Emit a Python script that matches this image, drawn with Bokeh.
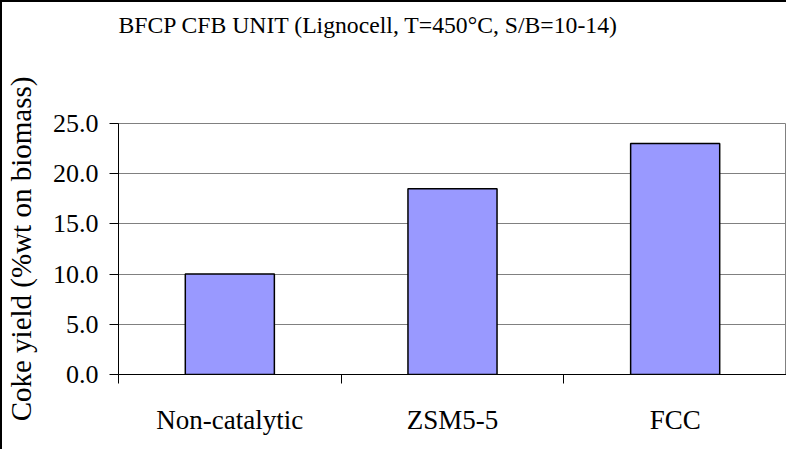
from bokeh.plotting import figure
from bokeh.models import FixedTicker, Range1d, NumeralTickFormatter, ColumnDataSource, Title
from bokeh.embed import file_html
from bokeh.resources import INLINE

# ---- data ----
categories = ["Non-catalytic", "ZSM5-5", "FCC"]
coke_yield = [10.0, 18.5, 23.0]
y_ticks = [0, 5, 10, 15, 20, 25]
title_text = "BFCP CFB UNIT (Lignocell, T=450\u00b0C, S/B=10-14)"
y_label = "Coke yield (%wt on biomass)"

FONT = "Liberation Serif"

centers = [i + 0.5 for i in range(len(categories))]
bounds = list(range(len(categories) + 1))

src = ColumnDataSource(dict(x=centers, top=coke_yield, cat=categories))

p = figure(width=786, height=449, output_backend="svg", toolbar_location=None,
           x_range=Range1d(0, len(categories)), y_range=Range1d(0, 25),
           min_border_left=118, min_border_right=0, min_border_top=123,
           min_border_bottom=75)

p.styles = {"box-shadow": "inset 2px 2px 0 0 #000"}
p.border_fill_alpha = 0.0
p.background_fill_color = "white"
p.outline_line_color = "#808080"
p.outline_line_width = 1

p.vbar(x="x", top="top", width=0.4, bottom=0, source=src,
       fill_color="#9999FF", line_color="black", line_width=1.5)

# spacer between plot area and title
p.add_layout(Title(text=" ", text_font_size="1px", standoff=74), "above")

# title
p.title.text = title_text
p.title.text_font = FONT
p.title.text_font_style = "normal"
p.title.text_font_size = "23.7px"
p.title.text_color = "black"
p.title.align = "left"
p.title.offset = 0
p.title.standoff = 18

# y axis
p.yaxis.ticker = FixedTicker(ticks=y_ticks)
p.yaxis.formatter = NumeralTickFormatter(format="0.0")
p.yaxis.major_label_text_font = FONT
p.yaxis.major_label_text_font_size = "26px"
p.yaxis.major_label_text_color = "black"
p.yaxis.major_tick_out = 9
p.yaxis.major_tick_in = 0
p.yaxis.minor_tick_line_color = None
p.yaxis.major_label_standoff = 11
p.yaxis.axis_line_color = "black"
p.yaxis.major_tick_line_color = "black"
p.yaxis.axis_label = y_label
p.yaxis.axis_label_text_font = FONT
p.yaxis.axis_label_text_font_style = "normal"
p.yaxis.axis_label_text_font_size = "29px"
p.yaxis.axis_label_text_color = "black"
p.yaxis.axis_label_standoff = 13

# x axis: labels at centres, ticks at category boundaries
p.xaxis.ticker = FixedTicker(ticks=centers, minor_ticks=bounds)
p.xaxis.major_label_overrides = {c: cat for c, cat in zip(centers, categories)}
p.xaxis.major_tick_line_color = None
p.xaxis.major_tick_out = 8
p.xaxis.major_tick_in = 0
p.xaxis.minor_tick_line_color = "black"
p.xaxis.minor_tick_out = 9
p.xaxis.minor_tick_in = 0
p.xaxis.axis_line_color = "black"
p.xaxis.major_label_text_font = FONT
p.xaxis.major_label_text_font_size = "27px"
p.xaxis.major_label_text_color = "black"
p.xaxis.major_label_standoff = 21

p.xgrid.grid_line_color = None
p.ygrid.ticker = FixedTicker(ticks=y_ticks)
p.ygrid.grid_line_color = "#808080"
p.ygrid.grid_line_width = 1

open("out.html", "w").write(file_html(p, INLINE))
